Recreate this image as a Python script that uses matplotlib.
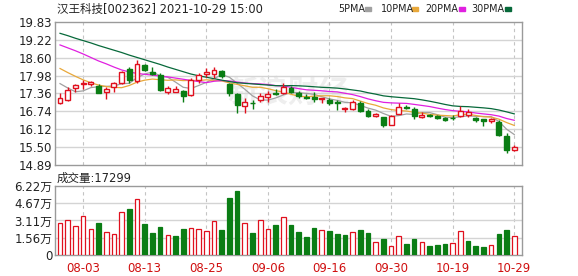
import numpy as np
import pandas as pd
import matplotlib
matplotlib.use("Agg")
import matplotlib.pyplot as plt
from matplotlib.patches import Rectangle

plt.rcParams['font.family'] = ['DejaVu Sans', 'Noto Sans CJK SC']

# ---- data ----
title = "汉王科技[002362] 2021-10-29 15:00"

dates = ["07-29", "07-30", "08-02", "08-03", "08-04", "08-05", "08-06", "08-09", "08-10", "08-11",
         "08-12", "08-13", "08-16", "08-17", "08-18", "08-19", "08-20", "08-23", "08-24", "08-25",
         "08-26", "08-27", "08-30", "08-31", "09-01", "09-02", "09-03", "09-06", "09-07", "09-08",
         "09-09", "09-10", "09-13", "09-14", "09-15", "09-16", "09-17", "09-22", "09-23", "09-24",
         "09-27", "09-28", "09-29", "09-30", "10-08", "10-11", "10-12", "10-13", "10-14", "10-15",
         "10-18", "10-19", "10-20", "10-21", "10-22", "10-25", "10-26", "10-27", "10-28", "10-29"]

opens = [17.02, 17.13, 17.54, 17.68, 17.70, 17.61, 17.40, 17.59, 17.71, 18.19,
         17.79, 18.34, 18.11, 17.98, 17.42, 17.42, 17.44, 17.30, 17.82, 18.03,
         18.03, 18.13, 17.67, 17.34, 16.92, 17.05, 17.13, 17.24, 17.38, 17.38,
         17.56, 17.36, 17.24, 17.24, 17.16, 17.13, 17.08, 16.82, 16.82, 17.02,
         16.76, 16.59, 16.54, 16.29, 16.67, 16.90, 16.84, 16.56, 16.63, 16.58,
         16.52, 16.52, 16.58, 16.61, 16.52, 16.47, 16.41, 16.38, 15.89, 15.41]
highs = [17.38, 17.59, 17.67, 17.84, 17.79, 17.67, 17.59, 17.74, 18.13, 18.28,
         18.51, 18.37, 18.26, 18.07, 17.61, 17.62, 17.48, 17.90, 18.07, 18.22,
         18.26, 18.16, 17.71, 17.36, 17.19, 17.13, 17.36, 17.45, 17.50, 17.73,
         17.61, 17.45, 17.34, 17.42, 17.22, 17.22, 17.13, 16.88, 17.13, 17.11,
         16.84, 16.69, 16.56, 16.61, 17.04, 16.96, 16.88, 16.73, 16.67, 16.61,
         16.56, 16.61, 16.92, 16.83, 16.54, 16.47, 16.52, 16.44, 16.00, 15.60]
lows = [16.99, 17.11, 17.42, 17.53, 17.62, 17.36, 17.18, 17.40, 17.68, 17.71,
        17.73, 18.14, 17.99, 17.45, 17.34, 17.40, 17.07, 17.28, 17.71, 17.93,
        17.88, 17.91, 17.28, 16.69, 16.69, 16.84, 17.07, 17.07, 17.32, 17.34,
        17.38, 17.22, 17.16, 17.07, 17.02, 16.96, 16.79, 16.71, 16.79, 16.73,
        16.54, 16.54, 16.21, 16.27, 16.65, 16.81, 16.48, 16.52, 16.56, 16.47,
        16.41, 16.44, 16.56, 16.56, 16.38, 16.24, 16.35, 15.90, 15.31, 15.37]
closes = [17.21, 17.48, 17.65, 17.72, 17.75, 17.38, 17.53, 17.71, 18.11, 17.82,
          18.36, 18.16, 18.03, 17.48, 17.56, 17.53, 17.27, 17.82, 17.99, 18.11,
          18.16, 17.96, 17.38, 16.96, 17.07, 17.02, 17.27, 17.34, 17.33, 17.59,
          17.42, 17.27, 17.21, 17.16, 17.19, 17.04, 17.02, 16.87, 17.07, 16.75,
          16.58, 16.67, 16.29, 16.58, 16.88, 16.86, 16.58, 16.62, 16.58, 16.52,
          16.44, 16.50, 16.76, 16.73, 16.44, 16.42, 16.47, 15.92, 15.41, 15.52]

# volume in 万 shares
volumes = [2.91, 3.16, 2.61, 3.52, 2.34, 2.91, 2.07, 1.89, 3.88, 4.15,
           5.05, 2.82, 2.01, 2.52, 1.80, 1.71, 2.34, 2.43, 2.34, 2.16,
           3.06, 2.25, 5.17, 5.77, 2.91, 2.01, 3.16, 2.34, 2.73, 3.43,
           2.73, 2.10, 1.62, 2.43, 2.25, 2.16, 1.89, 1.80, 2.07, 2.25,
           1.98, 1.17, 1.44, 0.81, 1.71, 0.99, 1.44, 1.17, 0.81, 0.90,
           0.99, 1.08, 2.16, 1.26, 0.81, 0.72, 0.90, 1.89, 2.25, 1.7299]

# moving averages before the window is full (earlier history not shown)
ma_heads = {
    5: [17.70, 17.55, 17.42, 17.45],
    10: [18.22, 18.08, 17.95, 17.83, 17.73, 17.65, 17.60, 17.57, 17.56],
    20: [19.03, 18.93, 18.83, 18.72, 18.60, 18.48, 18.38, 18.27, 18.17, 18.10,
         18.05, 18.02, 17.99, 17.96, 17.93, 17.89, 17.85, 17.81, 17.77],
    30: [19.43, 19.35, 19.26, 19.18, 19.10, 19.01, 18.93, 18.85, 18.77, 18.68,
         18.60, 18.52, 18.44, 18.36, 18.27, 18.19, 18.11, 18.03, 17.97, 17.92,
         17.87, 17.82, 17.77, 17.73, 17.71, 17.69, 17.67, 17.65, 17.63],
}

price_ticks = ["14.89", "15.50", "16.12", "16.74", "17.36", "17.98", "18.60", "19.22", "19.83"]
vol_ticks = ["0", "1.56万", "3.11万", "4.67万", "6.22万"]

red = '#e0101e'
green = '#0a7d14'
ma_colors = {5: '#a0a0a0', 10: '#e8a83a', 20: '#e020e0', 30: '#07693a'}
grid_c = '#d4d4d4'

df = pd.DataFrame({'o': opens, 'h': highs, 'l': lows, 'c': closes, 'v': volumes})
x = np.arange(len(df))

fig = plt.figure(figsize=(5.78, 2.76), dpi=100)
ax = fig.add_axes([0.0952, 0.4011, 0.8084, 0.5203])
axv = fig.add_axes([0.0952, 0.0761, 0.8084, 0.25])

# watermark
ax.text(0.50, 0.50, "新浪财经", transform=ax.transAxes, fontsize=22,
        color='#eeeeee', ha='center', va='center', fontweight='bold', zorder=0)

# candles
for i, r in df.iterrows():
    up = r.c >= r.o
    col = red if up else green
    ax.vlines(i, r.l, r.h, color=col, lw=1, zorder=3)
    lo = min(r.o, r.c)
    hgt = max(abs(r.c - r.o), 0.02)
    ax.add_patch(Rectangle((i - 0.32, lo), 0.64, hgt, facecolor='white' if up else col,
                           edgecolor=col, lw=1, zorder=4))

# moving averages
for n in [5, 10, 20, 30]:
    ma = df.c.rolling(n).mean().to_numpy()
    ma[:n - 1] = ma_heads[n]
    ax.plot(x, ma, color=ma_colors[n], lw=0.9, zorder=2)

# volume, colour from close vs previous close
vup = np.r_[True, np.diff(df.c.to_numpy()) >= 0]
axv.bar(x, df.v, width=0.6, color=np.where(vup, 'white', green),
        edgecolor=np.where(vup, red, green), lw=0.9, zorder=3)

tick_idx = list(range(3, len(dates), 8))
for a in (ax, axv):
    a.set_xlim(-0.65, len(dates) - 1 + 1.04)
    a.set_xticks(tick_idx)
    for t in tick_idx:
        a.axvline(t, color='#c4c4c4', lw=0.8, ls=(0, (3, 3)), zorder=1)
    for s in a.spines.values():
        s.set_color('#9a9a9a')
        s.set_linewidth(1)
    a.tick_params(length=0, labelsize=8.5, pad=2, colors='#222222')

ax.set_ylim(14.89, 19.83)
pt = np.linspace(14.89, 19.83, len(price_ticks))
ax.set_yticks(pt)
ax.set_yticklabels(price_ticks)
for y in pt[1:-1]:
    ax.axhline(y, color=grid_c, lw=1, zorder=1)
ax.set_xticklabels([])

axv.set_ylim(0, 6.22)
vt = np.linspace(0, 6.22, len(vol_ticks))
axv.set_yticks(vt)
axv.set_yticklabels(vol_ticks)
for y in vt[1:-1]:
    axv.axhline(y, color=grid_c, lw=1, zorder=1)
axv.set_xticklabels([dates[i] for i in tick_idx], color='#d01010')
axv.tick_params(axis='x', pad=5)

# header texts
fig.text(57 / 578, 1 - 9 / 276, title, fontsize=8.3, ha='left', va='center', color='#222222')
fig.text(57 / 578, 1 - 178 / 276, "成交量:%d" % round(volumes[-1] * 10000), fontsize=8.3,
         ha='left', va='center', color='#222222')

# legend
leg_x = [338, 381, 425, 471]
box_x = [365, 412, 459, 505]
for n, lx, bx in zip([5, 10, 20, 30], leg_x, box_x):
    fig.text(lx / 578, 1 - 9 / 276, "%dPMA" % n, fontsize=6.9, ha='left', va='center',
             color='#222222')
    fig.patches.append(Rectangle((bx / 578, 1 - 10.5 / 276), 5.5 / 578, 3 / 276,
                                 transform=fig.transFigure, color=ma_colors[n]))

fig.savefig("out.png", dpi=100)
